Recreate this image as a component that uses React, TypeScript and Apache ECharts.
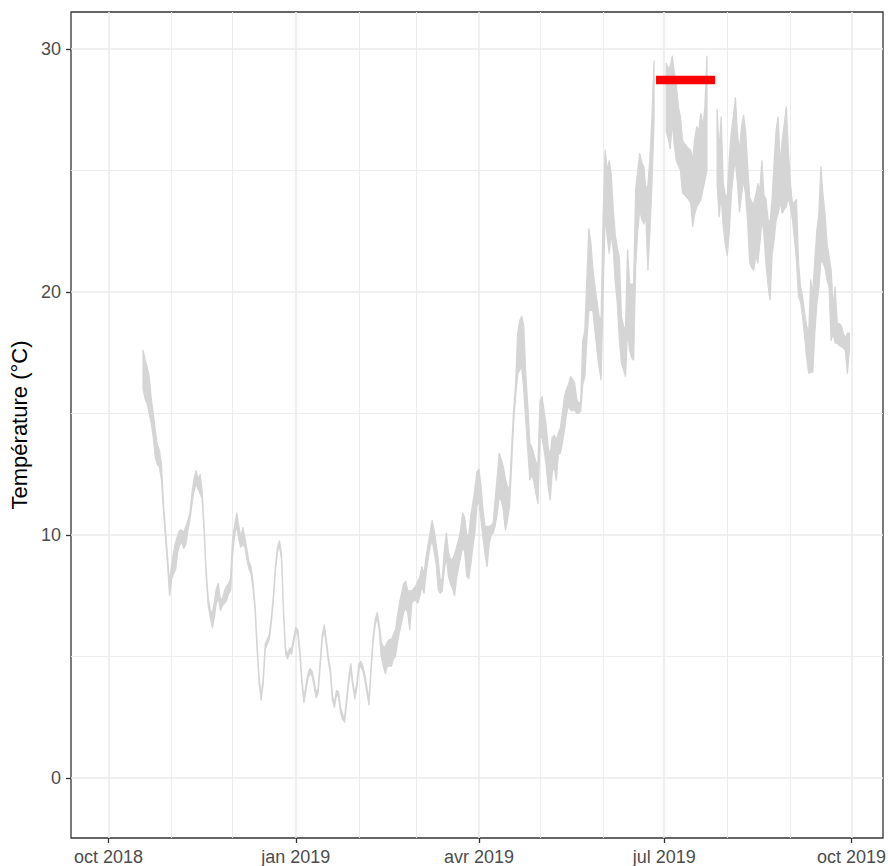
import React, { useEffect, useRef } from "react";
import * as echarts from "echarts";

// Daily series starting at this date (one value per day, null = missing day)
const START_DATE = "2018-10-18";

const lowerTemp: (number | null)[] = [
  16.0, 15.6, 15.4, 15.0, 14.6, 14.0, 13.2, 12.9, 12.8, 12.3,
  11.0, 9.9, 8.8, 7.5, 8.2, 8.4, 8.6, 9.3, 9.6, 9.7,
  9.45, 9.6, 10.2, 10.6, 11.3, 11.8, 12.1, 11.9, 11.7, 11.5,
  10.1, 8.3, 7.1, 6.6, 6.2, 6.6, 7.2, 7.4, 6.9, 7.1,
  7.2, 7.3, 7.6, 7.7, 9.2, 10.0, 10.4, 9.8, 9.5, 9.6,
  9.5, 9.0, 8.6, 8.4, 7.8, 6.9, 5.3, 3.9, 3.2, 3.9,
  5.3, 5.5, 5.7, 6.4, 7.3, 8.5, 9.3, 9.55, 9.0, 6.7,
  5.1, 4.9, 5.15, 5.1, 5.6, 6.0, 5.9, 5.1, 3.9, 3.1,
  3.6, 4.1, 4.3, 4.2, 3.8, 3.3, 3.5, 4.6, 5.7, 6.1,
  5.5, 4.8, 4.3, 3.2, 2.9, 3.4, 3.35, 2.7, 2.4, 2.3,
  3.1, 3.9, 4.5, 3.8, 3.25, 3.7, 4.5, 4.6, 4.4, 4.0,
  3.5, 3.0, 4.4, 5.6, 6.3, 6.6, 6.1, 5.0, 4.6, 4.3,
  4.6, 4.6, 4.6, 4.9, 5.0, 5.6, 6.0, 6.4, 6.8, 7.0,
  6.8, 6.1, 7.2, 7.3, 7.3, 7.2, 7.5, 7.9, 7.6, 8.4,
  9.0, 9.5, 9.8, 9.3, 8.8, 7.74, 7.6, 7.7, 8.6, 9.1,
  8.3, 8.0, 7.8, 7.5, 8.2, 8.7, 9.1, 9.5, 9.3, 8.3,
  8.2, 8.8, 9.5, 10.1, 11.2, 11.4, 10.6, 9.9, 9.2, 8.7,
  9.6, 10.0, 10.07, 10.4, 10.9, 11.58, 11.4, 11.0, 10.2, 10.6,
  11.16, 12.8, 14.6, 15.7, 16.6, 16.8, 16.9, 16.0, 14.7, 13.5,
  12.26, 12.5, 12.2, 11.7, 11.3, 14.0, 14.0, 13.5, 12.9, 12.0,
  11.44, 12.6, 12.8, 12.26, 13.3, 13.36, 13.8, 14.32, 15.0, 15.3,
  15.14, 15.1, 15.15, 15.0, 15.0, 15.1, 16.2, 16.5, 18.0, 19.2,
  19.3, 19.2, 18.4, 17.6, 16.9, 16.38, 20.0, 23.1, 22.3, 21.6,
  22.4, 21.73, 20.4, 19.5, 18.0, 17.07, 16.8, 16.52, 18.4, 17.6,
  17.3, 17.2, 21.1, 22.5, 23.37, 23.0, 22.8, 23.1, 20.9, 22.5,
  24.46, 27.0, null, null, null, null, null, 26.6, 26.3, 25.9,
  27.0, 26.0, 25.4, 25.2, 25.0, 24.06, 24.0, 23.9, 23.8, 23.65,
  22.7, 23.2, 23.5, 23.65, 23.8, 24.2, 24.6, 25.0, null, null,
  null, null, 24.46, 23.1, 24.0, 22.7, 22.0, 21.5, 22.5, 24.0,
  24.9, 25.4, 24.46, 23.3, 24.0, 24.6, 24.0, 22.9, 21.2, 21.0,
  20.9, 21.5, 21.2, 22.0, 23.0, 22.4, 21.2, 20.3, 19.67, 21.5,
  22.14, 22.96, 23.24, 23.7, 23.24, 23.4, 23.5, 23.9, 23.5, 23.0,
  22.2, 21.3, 19.8, 19.6, 19.0, 18.17, 17.3, 16.66, 16.7, 16.7,
  18.3, 19.5, 20.2, 21.3, 21.2, 21.0, 20.5, 20.2, 18.0, 18.3,
  17.9, 17.9, 17.8, 17.75, 17.7, 17.6, 16.66, 17.6,
];

const upperTemp: (number | null)[] = [
  17.6, 17.2, 16.9, 16.5, 15.6, 15.0, 14.3, 13.7, 13.5, 12.9,
  11.3, 10.2, 9.1, 8.0, 8.8, 9.3, 9.7, 10.0, 10.2, 10.2,
  10.1, 10.35, 10.6, 10.9, 11.7, 12.3, 12.65, 12.3, 12.5, 11.8,
  10.3, 8.5, 7.4, 6.9, 6.8, 7.2, 7.8, 8.0, 7.3, 7.4,
  7.7, 7.9, 8.0, 8.2, 9.9, 10.4, 10.9, 10.4, 9.9, 10.3,
  9.9, 9.4, 8.9, 8.7, 8.1, 7.1, 5.5, 4.1, 3.4, 4.1,
  5.5, 5.7, 5.9, 6.6, 7.5, 8.7, 9.5, 9.75, 9.2, 6.9,
  5.3, 5.1, 5.35, 5.3, 5.8, 6.2, 6.1, 5.3, 4.1, 3.3,
  3.8, 4.3, 4.5, 4.4, 4.0, 3.5, 3.7, 4.8, 5.9, 6.3,
  5.7, 5.0, 4.5, 3.4, 3.1, 3.6, 3.55, 2.9, 2.6, 2.5,
  3.3, 4.1, 4.7, 4.0, 3.45, 3.9, 4.7, 4.8, 4.6, 4.2,
  3.7, 3.2, 4.6, 5.8, 6.5, 6.8, 6.3, 5.6, 5.4, 5.4,
  5.6, 5.7, 5.7, 5.9, 6.1, 6.7, 7.2, 7.6, 8.0, 8.1,
  7.7, 7.7, 7.7, 7.8, 7.9, 8.1, 8.3, 8.7, 8.4, 9.1,
  9.6, 10.1, 10.6, 10.2, 9.6, 8.97, 8.1, 8.2, 9.4, 10.07,
  9.3, 9.0, 9.0, 9.2, 9.5, 9.8, 10.2, 10.9, 10.7, 10.0,
  10.0, 10.8, 11.3, 11.9, 12.6, 12.7, 12.0, 11.0, 10.35, 10.35,
  10.35, 10.4, 10.5, 11.5, 12.4, 13.36, 13.1, 12.8, 12.3, 12.0,
  11.85, 13.5, 15.1, 16.2, 18.3, 18.8, 19.0, 18.6, 16.6, 15.3,
  13.77, 13.6, 13.3, 13.0, 12.95, 15.5, 15.69, 15.1, 14.5, 13.6,
  13.3, 14.0, 14.1, 13.9, 14.2, 14.4, 15.0, 15.69, 16.0, 16.2,
  16.52, 16.4, 16.25, 15.6, 15.4, 15.5, 18.0, 18.4, 20.5, 22.6,
  22.0, 20.9, 20.2, 19.6, 19.0, 18.8, 23.1, 25.84, 25.0, 25.4,
  24.8, 23.37, 22.3, 21.8, 21.4, 18.98, 18.6, 18.44, 21.73, 20.35,
  20.3, 20.35, 24.2, 25.0, 25.7, 25.3, 25.16, 24.2, 24.4, 25.5,
  27.2, 29.5, null, null, null, null, null, 29.4, 29.2, 29.3,
  29.7, 29.0, 28.5, 27.6, 27.2, 26.25, 26.1, 26.0, 25.9, 25.84,
  25.43, 26.3, 26.8, 26.6, 27.35, 26.8, 27.6, 29.7, null, null,
  null, null, 27.5, 25.8, 27.2, 24.46, 24.0, 23.9, 25.5, 26.6,
  27.2, 28.0, 26.5, 25.8, 26.8, 27.28, 26.6, 25.2, 23.9, 23.7,
  23.6, 24.0, 24.46, 24.2, 25.4, 24.0, 23.8, 23.0, 22.8, 23.8,
  25.3, 26.67, 27.2, 25.2, 26.25, 26.9, 27.62, 25.8, 24.5, 23.6,
  23.7, 23.8, 21.2, 20.2, 19.8, 19.12, 18.6, 18.3, 20.5, 19.9,
  21.3, 22.5, 23.24, 25.16, 24.0, 23.24, 22.0, 21.46, 20.9, 19.4,
  20.2, 18.7, 18.7, 18.6, 18.3, 18.1, 18.3, 18.3,
];

// Red highlighted period
const redPeriod = ["2019-06-27", "2019-07-26"];
const redLevel = 28.72;

// Axes
const yTicks = [0, 10, 20, 30];
const yMinorTicks = [5, 15, 25];
const xMajorDates = ["2018-10-01", "2019-01-01", "2019-04-01", "2019-07-01", "2019-10-01"];
const xTickLabels = ["oct 2018", "jan 2019", "avr 2019", "jul 2019", "oct 2019"];
const xMinorDates = [
  "2018-11-01", "2018-12-01", "2019-02-01", "2019-03-01",
  "2019-05-01", "2019-06-01", "2019-08-01", "2019-09-01",
];
const yLimits = [-2.47, 31.52];
const xLimitDays = [-18.42, 380.5]; // days relative to 2018-10-01
const yTitle = "Température (°C)";

const DAY = 86400000;
const ts = (s: string) => Date.parse(s + "T00:00:00Z");
const FONT = '"Liberation Sans", Arial, Helvetica, sans-serif';
const RIBBON = "#D5D5D5";

type Segment = { t: number[]; lo: number[]; hi: number[] };

export default function App() {
  const ref = useRef<HTMLDivElement>(null);

  useEffect(() => {
    if (!ref.current) return;
    const chart = echarts.init(ref.current, undefined, { renderer: "svg" });

    // Split the daily ribbon into contiguous (non-missing) segments
    const t0 = ts(START_DATE);
    const segments: Segment[] = [];
    let cur: Segment | null = null;
    lowerTemp.forEach((lo, i) => {
      const hi = upperTemp[i];
      if (lo == null || hi == null) {
        cur = null;
        return;
      }
      if (!cur) {
        cur = { t: [], lo: [], hi: [] };
        segments.push(cur);
      }
      cur.t.push(t0 + i * DAY);
      cur.lo.push(lo);
      cur.hi.push(hi);
    });

    const origin = ts("2018-10-01");
    const xMin = origin + xLimitDays[0] * DAY;
    const xMax = origin + xLimitDays[1] * DAY;
    const majorTs = xMajorDates.map(ts);
    const minorTs = xMinorDates.map(ts);

    const majorLine = { color: "#EBEBEB", width: 1.6 };
    const minorLine = { color: "#EBEBEB", width: 0.9 };
    const tickLine = { color: "#333333", width: 1.3 };

    const option: any = {
      animation: false,
      textStyle: { fontFamily: FONT },
      grid: {
        left: 71,
        right: 5,
        top: 12,
        bottom: 28,
        show: true,
        borderColor: "#333333",
        borderWidth: 1.3,
        backgroundColor: "#FFFFFF",
        containLabel: false,
        outerBoundsMode: "none",
      },
      xAxis: [
        {
          type: "value",
          min: xMin,
          max: xMax,
          position: "bottom",
          scale: true,
          axisLine: { show: false, onZero: false },
          axisTick: { show: true, customValues: majorTs, length: 5, lineStyle: tickLine },
          axisLabel: {
            customValues: majorTs,
            color: "#4D4D4D",
            fontSize: 18,
            fontFamily: FONT,
            margin: 10,
            hideOverlap: false,
            formatter: (v: number) => {
              let best = -1;
              let bd = Infinity;
              majorTs.forEach((m, i) => {
                const d = Math.abs(m - v);
                if (d < bd) { bd = d; best = i; }
              });
              return bd < DAY ? xTickLabels[best] : "";
            },
          },
          splitLine: { show: true, lineStyle: majorLine },
        },
        {
          type: "value",
          min: xMin,
          max: xMax,
          position: "bottom",
          scale: true,
          axisLine: { show: false, onZero: false },
          axisTick: { show: false, customValues: minorTs },
          axisLabel: { show: false, customValues: minorTs },
          splitLine: { show: true, lineStyle: minorLine },
        },
      ],
      yAxis: [
        {
          type: "value",
          min: yLimits[0],
          max: yLimits[1],
          position: "left",
          axisLine: { show: false, onZero: false },
          axisTick: { show: true, customValues: yTicks, length: 5, lineStyle: tickLine },
          axisLabel: {
            customValues: yTicks,
            color: "#4D4D4D",
            fontSize: 18,
            fontFamily: FONT,
            margin: 10,
          },
          splitLine: { show: true, lineStyle: majorLine },
          name: yTitle,
          nameLocation: "middle",
          nameGap: 36,
          nameTextStyle: { fontSize: 22, color: "#000000", fontFamily: FONT },
        },
        {
          type: "value",
          min: yLimits[0],
          max: yLimits[1],
          position: "left",
          axisLine: { show: false, onZero: false },
          axisTick: { show: false, customValues: yMinorTicks },
          axisLabel: { show: false, customValues: yMinorTicks },
          splitLine: { show: true, lineStyle: minorLine },
        },
      ],
      series: [
        {
          type: "custom",
          name: "ribbon",
          xAxisIndex: 0,
          yAxisIndex: 0,
          silent: true,
          z: 2,
          data: segments.map((s) => [s.t[0], s.lo[0]]),
          encode: { x: 0, y: 1 },
          renderItem: (params: any, api: any) => {
            const seg = segments[params.dataIndex];
            const pts: number[][] = [];
            for (let k = 0; k < seg.t.length; k++) pts.push(api.coord([seg.t[k], seg.hi[k]]));
            for (let k = seg.t.length - 1; k >= 0; k--) pts.push(api.coord([seg.t[k], seg.lo[k]]));
            return {
              type: "polygon",
              shape: { points: pts },
              style: { fill: RIBBON, stroke: RIBBON, lineWidth: 1.3, lineJoin: "round" },
              silent: true,
            };
          },
        },
        {
          type: "line",
          name: "period",
          xAxisIndex: 0,
          yAxisIndex: 0,
          data: [
            [ts(redPeriod[0]), redLevel],
            [ts(redPeriod[1]), redLevel],
          ],
          symbol: "none",
          silent: true,
          lineStyle: { color: "#FF0000", width: 8.6, cap: "butt" },
          z: 5,
        },
      ],
    };

    chart.setOption(option);
    return () => chart.dispose();
  }, []);

  return (
    <div
      ref={ref}
      style={{ position: "absolute", left: 0, top: 0, width: 888, height: 866, background: "#fff" }}
    />
  );
}
